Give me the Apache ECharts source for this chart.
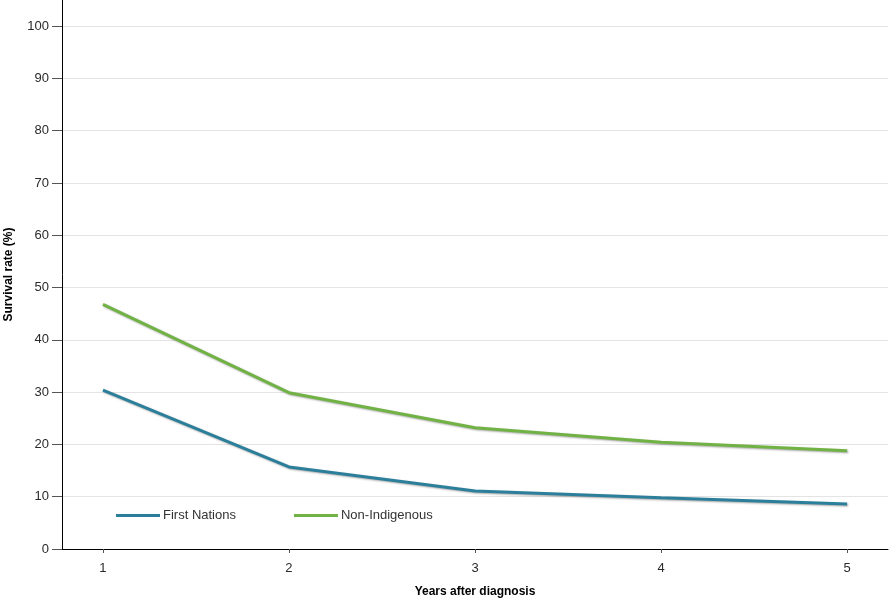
<!DOCTYPE html>
<html>
<head>
<meta charset="utf-8">
<script src="https://cdn.jsdelivr.net/npm/echarts@6/dist/echarts.min.js"></script>
<style>
  html, body { margin: 0; padding: 0; background: #fff; }
  #chart { width: 890px; height: 600px; }
</style>
</head>
<body>
<div id="chart"></div>
<script>
// years after diagnosis
const years = [1, 2, 3, 4, 5];
// survival rate (%)
const firstNations = [30.4, 15.7, 11.1, 9.8, 8.6];
const nonIndigenous = [46.8, 29.9, 23.2, 20.4, 18.8];
const yTicks = [0, 10, 20, 30, 40, 50, 60, 70, 80, 90, 100];

const chart = echarts.init(document.getElementById('chart'));

const font = 'Liberation Sans, Arial, sans-serif';

function pairs(vals) {
  return years.map((y, i) => [y, vals[i]]);
}

const lineShadow = {
  shadowColor: 'rgba(0,0,0,0.35)',
  shadowBlur: 2,
  shadowOffsetY: 1,
  shadowOffsetX: 1
};

const option = {
  animation: false,
  textStyle: { fontFamily: font },
  grid: { left: 62, right: 2, top: 0, bottom: 51, containLabel: false, outerBoundsMode: 'none' },
  legend: {
    left: 111,
    top: 504,
    icon: 'rect',
    itemWidth: 44,
    itemHeight: 3,
    itemGap: 58,
    textStyle: { fontFamily: font, fontSize: 13, color: '#333', padding: [0, 0, 0, -2] },
    data: ['First Nations', 'Non-Indigenous']
  },
  xAxis: {
    type: 'value',
    min: 0.78,
    max: 5.22,
    name: 'Years after diagnosis',
    nameLocation: 'middle',
    nameGap: 37,
    nameTextStyle: { fontFamily: font, fontSize: 12, fontWeight: 'bold', color: '#000' },
    axisLine: { lineStyle: { color: '#000', width: 1 } },
    axisTick: { show: true, length: 4, customValues: years, lineStyle: { color: '#555' } },
    axisLabel: { customValues: years, color: '#2a2a2a', fontSize: 13, margin: 13 },
    splitLine: { show: false }
  },
  yAxis: {
    type: 'value',
    min: 0,
    max: 105,
    name: 'Survival rate (%)',
    nameLocation: 'middle',
    nameGap: 47,
    nameTextStyle: { fontFamily: font, fontSize: 12, fontWeight: 'bold', color: '#000' },
    axisLine: { show: true, lineStyle: { color: '#000', width: 1 } },
    axisTick: { show: true, length: 10, customValues: yTicks, lineStyle: { color: '#555' } },
    axisLabel: { customValues: yTicks, color: '#2a2a2a', fontSize: 13, margin: 13 },
    splitLine: { show: true, lineStyle: { color: '#e4e4e4', width: 1 } }
  },
  series: [
    {
      name: 'First Nations',
      type: 'line',
      data: pairs(firstNations),
      showSymbol: false,
      symbol: 'none',
      color: '#2b7f9b',
      lineStyle: Object.assign({ color: '#2b7f9b', width: 3, cap: 'butt' }, lineShadow)
    },
    {
      name: 'Non-Indigenous',
      type: 'line',
      data: pairs(nonIndigenous),
      showSymbol: false,
      symbol: 'none',
      color: '#71b244',
      lineStyle: Object.assign({ color: '#71b244', width: 3, cap: 'butt' }, lineShadow)
    }
  ]
};

chart.setOption(option);
</script>
</body>
</html>
